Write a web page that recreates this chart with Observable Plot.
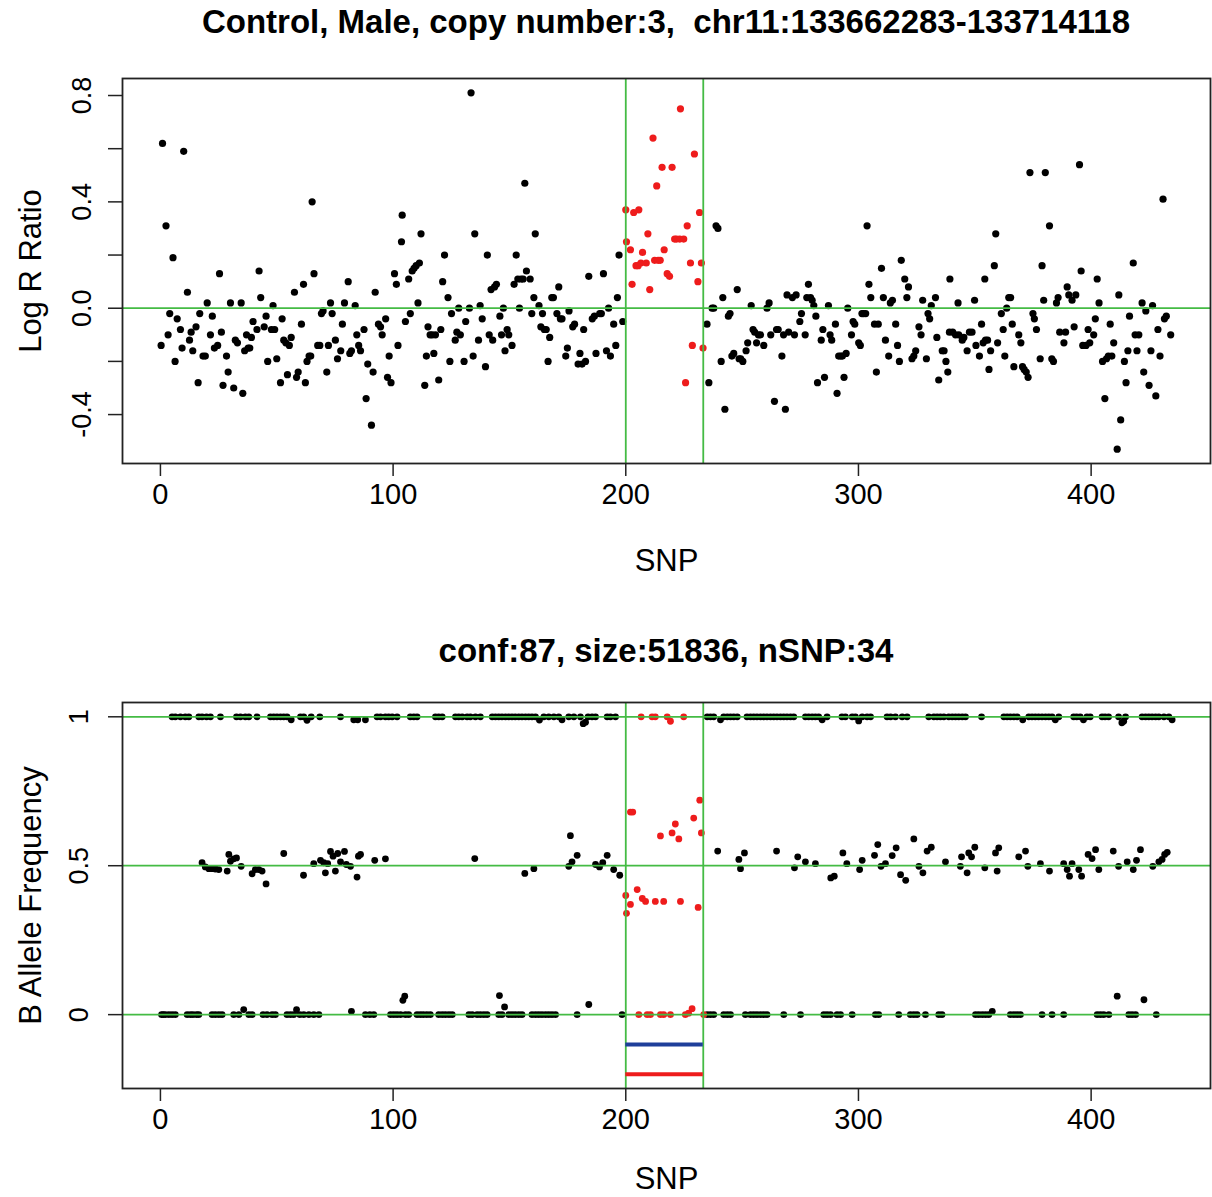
<!DOCTYPE html>
<html>
<head>
<meta charset="utf-8">
<script src="https://cdn.jsdelivr.net/npm/d3@7"></script>
<script src="https://cdn.jsdelivr.net/npm/@observablehq/plot@0.6"></script>
<style>
  html, body { margin: 0; padding: 0; background: #fff; }
  #page { position: relative; width: 1212px; height: 1197px; background: #fff; overflow: hidden;
          font-family: "Liberation Sans", Arial, Helvetica, sans-serif; }
  .ttl { position: absolute; left: 122px; width: 1088px; text-align: center; font-weight: bold;
         font-size: 33px; line-height: 33px; color: #000; white-space: pre; }
  .panel { position: absolute; left: 0; }
</style>
</head>
<body>
<div id="page">
  <div class="ttl" id="title1" style="top:5px"></div>
  <div class="panel" id="p1" style="top:50px"></div>
  <div class="ttl" id="title2" style="top:634px"></div>
  <div class="panel" id="p2" style="top:674px"></div>
</div>
<script>
// ---------- texts ----------
const mainTitle = "Control, Male, copy number:3,  chr11:133662283-133714118";
const subTitle = "conf:87, size:51836, nSNP:34";
const xLabel = "SNP";
const lrrLabel = "Log R Ratio";
const bafLabel = "B Allele Frequency";

// ---------- axes ----------
const xTicks = [0, 100, 200, 300, 400];
const lrrTicks = [-0.4, -0.2, 0, 0.2, 0.4, 0.6, 0.8];
const lrrLabeledTicks = [-0.4, 0, 0.4, 0.8];
const bafTicks = [0, 0.5, 1];
const lrrRefLines = [0];
const bafRefLines = [0, 0.5, 1];

// ---------- CNV region ----------
const regionBounds = [200, 233.3];
const regionBars = [-0.1, -0.2];   // blue, red bars under BAF panel

// ---------- Log R Ratio: [SNP, value] ----------
const lrrBlack = [
[0.3,-0.14],[0.9,0.62],[2.4,0.31],[3.3,-0.10],[4.0,-0.02],[5.4,0.19],[6.3,-0.20],[7.2,-0.04],[8.6,-0.08],[9.3,-0.15],[10.0,0.59],[11.6,0.06],[12.5,-0.12],[13.2,-0.09],[13.9,-0.16],[15.3,-0.07],[16.2,-0.28],[16.9,-0.02],[18.3,-0.18],[19.3,-0.18],[20.1,0.02],[21.5,-0.10],[22.3,-0.03],[23.2,-0.15],[24.6,-0.14],[25.4,0.13],[26.2,-0.09],[26.9,-0.29],[28.4,-0.18],[29.1,-0.24],[30.1,0.02],[31.5,-0.30],[32.2,-0.12],[33.1,-0.13],[34.7,0.02],[35.4,-0.32],[36.2,-0.16],[37.0,-0.10],[37.7,-0.15],[38.4,-0.15],[39.1,-0.11],[39.8,-0.05],[41.5,-0.08],[42.4,0.14],[43.1,0.04],[44.6,-0.07],[45.4,-0.03],[46.1,-0.20],[47.7,-0.08],[48.4,0.01],[49.1,-0.08],[50.0,-0.19],[51.6,-0.28],[52.3,-0.04],[53.0,-0.12],[53.9,-0.13],[54.6,-0.25],[55.4,-0.14],[56.2,-0.11],[57.6,0.06],[58.5,-0.26],[59.2,-0.24],[60.6,-0.06],[61.5,0.09],[62.3,-0.28],[63.0,-0.20],[63.9,-0.18],[64.6,-0.18],[65.2,0.40],[66.0,0.13],[67.6,-0.14],[68.5,-0.14],[69.2,-0.02],[69.9,-0.01],[71.5,-0.24],[72.2,-0.14],[73.1,0.02],[73.8,-0.02],[75.2,-0.12],[76.1,-0.19],[77.5,-0.16],[78.2,-0.06],[79.1,0.02],[80.7,0.10],[81.4,-0.17],[82.1,-0.16],[83.7,0.01],[84.4,-0.10],[85.2,-0.14],[86.0,-0.16],[87.5,-0.08],[88.4,-0.34],[89.1,-0.21],[90.7,-0.44],[91.4,-0.24],[92.3,0.06],[93.7,-0.06],[94.6,-0.07],[95.3,-0.10],[96.8,-0.04],[97.6,-0.26],[98.3,-0.18],[99.1,-0.28],[100.6,0.13],[101.4,0.09],[102.1,-0.14],
[103.9,0.35],[103.6,0.25],[105.3,-0.05],[106.7,0.11],[107.4,-0.02],[108.2,0.14],[109.0,0.15],[109.9,0.16],[110.7,0.02],[111.3,0.17],[112.0,0.28],[113.6,-0.29],[114.3,-0.18],[115.0,-0.07],[115.9,-0.10],[116.8,-0.10],[117.5,-0.17],[118.2,-0.10],[119.6,-0.27],[120.5,-0.08],[121.3,0.10],[122.1,0.20],[123.6,0.04],[124.4,-0.20],[125.1,-0.02],[126.7,-0.12],[127.4,-0.09],[128.2,0.00],[128.9,-0.10],[130.5,-0.20],[131.2,-0.05],[132.8,0.00],[133.5,0.81],[134.4,-0.18],[135.1,0.28],[136.7,-0.12],[137.4,0.01],[138.3,-0.04],[139.7,-0.22],[140.5,0.20],[141.3,-0.10],[142.1,0.07],[142.8,-0.12],[143.6,0.08],[144.4,0.09],[145.9,-0.03],[146.6,-0.10],[147.4,0.00],[148.1,-0.16],[149.0,-0.08],[149.7,-0.10],[151.1,-0.14],[152.0,0.09],[152.9,0.20],[153.6,0.11],[154.3,0.00],[155.0,0.11],[155.9,0.11],[156.6,0.47],[157.3,0.14],[158.9,0.11],[159.6,-0.02],[160.5,0.04],[161.1,0.28],[162.7,0.01],[163.5,-0.07],[164.2,-0.02],[165.0,-0.08],[165.8,-0.08],[166.6,-0.20],[167.3,-0.11],[168.2,0.04],[168.9,0.04],[170.4,-0.02],[171.2,0.08],[171.9,-0.04],[172.6,-0.04],[174.2,-0.18],[174.9,-0.15],[175.6,-0.01],[177.2,-0.07],[178.0,-0.06],[179.5,-0.21],[180.3,-0.17],[181.2,-0.21],[181.9,-0.08],[182.7,-0.20],[184.1,0.12],[185.6,-0.04],[186.5,-0.03],[187.2,-0.17],[188.8,-0.02],[189.5,-0.02],[190.4,0.13],[191.7,-0.16],[192.6,0.00],[193.4,-0.18],[194.8,-0.06],[195.7,-0.14],[196.4,0.04],[197.1,0.20],[198.7,-0.05],
[238.8,0.31],[239.6,0.30],[234.9,-0.06],[235.7,-0.28],[237.1,0.00],[237.8,0.00],[241.0,-0.20],[241.7,0.04],[242.6,-0.38],[244.1,-0.03],[244.8,-0.02],[245.6,-0.18],[246.4,-0.17],[247.9,0.07],[248.7,-0.19],[249.4,-0.19],[250.3,-0.20],[251.7,-0.16],[252.4,-0.13],[253.9,0.01],[254.7,-0.08],[255.4,-0.09],[256.2,-0.13],[257.0,-0.10],[257.9,-0.10],[259.3,-0.14],[260.7,0.00],[261.6,0.02],[262.3,-0.10],[263.9,-0.35],[264.8,-0.08],[265.5,-0.08],[267.1,-0.18],[267.8,-0.10],[268.6,-0.38],[269.3,0.05],[270.0,-0.09],[271.6,0.04],[272.5,-0.10],[273.2,0.05],[274.8,-0.05],[275.5,-0.02],[277.1,-0.10],[277.8,0.04],[278.5,0.09],[279.4,0.04],[280.1,0.03],[280.8,0.01],[281.7,-0.03],[282.4,-0.28],[284.0,-0.12],[284.7,-0.08],[285.4,-0.26],[287.1,0.01],[287.8,-0.10],[288.5,-0.12],[290.1,-0.06],[290.8,-0.32],[291.5,-0.18],[292.4,-0.18],[293.1,-0.18],[293.8,-0.26],[294.7,-0.17],[295.4,0.00],[297.0,-0.10],[297.7,-0.05],[298.4,-0.06],[300.1,-0.13],[300.8,-0.14],[301.5,-0.02],[302.2,-0.02],[303.1,-0.02],[303.7,0.31],[304.5,0.09],[305.3,0.04],[306.9,-0.06],[307.7,-0.24],[308.5,-0.06],[309.9,0.15],[310.7,0.04],[311.6,-0.12],[313.0,-0.18],[313.7,0.02],[314.6,0.03],[316.0,-0.06],[316.8,-0.14],[317.6,-0.20],[318.4,0.18],[319.9,0.11],[320.8,0.04],[321.5,0.08],[323.0,-0.19],[323.8,-0.18],[324.6,-0.16],[326.0,-0.07],[326.9,-0.10],[327.6,0.03],[329.2,-0.19],[329.9,-0.02],[330.6,-0.04],[331.3,0.01],[333.1,0.04],[333.7,-0.11],[334.5,-0.27],[336.0,-0.16],[336.8,-0.16],[337.6,-0.20],[338.4,-0.24],[339.1,-0.09],[339.3,0.11],
[340.5,-0.09],[341.7,-0.10],[342.8,0.02],[343.1,-0.10],[344.6,-0.12],[345.3,-0.11],[346.7,-0.16],[347.7,-0.09],[348.8,-0.09],[349.9,0.03],[350.5,-0.14],[352.0,-0.18],[352.9,-0.06],[353.6,-0.13],[354.3,0.11],[354.6,-0.12],[355.5,-0.12],[356.1,-0.23],[356.8,-0.16],[358.4,0.16],[359.0,0.28],[359.8,-0.13],[361.4,-0.02],[362.2,-0.08],[362.9,-0.18],[363.7,0.00],[364.6,0.04],[365.4,0.04],[366.1,-0.06],[366.8,-0.22],[368.9,-0.10],[369.8,-0.13],[370.5,-0.22],[371.2,-0.23],[372.1,-0.24],[372.9,-0.26],[373.7,0.51],[375.0,-0.02],[375.6,-0.04],[376.5,-0.08],[378.1,-0.19],[378.9,0.16],[379.6,0.03],[380.3,0.51],[382.1,0.31],[383.1,-0.19],[383.8,-0.20],[385.1,0.02],[385.8,0.04],[386.5,-0.09],[388.3,-0.13],[389.0,-0.09],[389.7,0.08],[390.4,0.05],[391.8,0.03],[392.7,-0.07],[393.4,0.05],[395.0,0.54],[395.7,0.14],[396.4,-0.14],[397.8,-0.14],[398.7,-0.08],[399.4,-0.13],[401.1,-0.10],[401.8,-0.04],[402.6,0.11],[403.4,0.02],[404.9,-0.20],[405.9,-0.34],[406.6,-0.19],[407.4,-0.18],[408.2,-0.06],[408.9,-0.18],[409.7,-0.13],[411.2,-0.53],[411.9,0.05],[412.7,-0.42],[414.3,-0.20],[415.0,-0.28],[415.8,-0.16],[416.5,-0.03],[418.1,0.17],[418.9,-0.10],[419.7,-0.16],[420.5,-0.10],[421.9,0.02],[422.6,-0.24],[423.5,-0.01],[424.9,-0.29],[425.7,-0.16],[426.4,0.01],[427.8,-0.33],[428.7,-0.08],[429.6,-0.18],[430.9,0.41],[431.5,-0.04],[432.3,-0.03],[434.2,-0.10]
];
const lrrRed = [
[200.0,0.37],[200.3,0.25],[202.0,0.22],[202.7,0.09],[203.4,0.36],[204.4,0.16],[205.6,0.37],[205.3,0.16],[206.5,0.17],[207.2,0.21],[208.8,0.17],[209.5,0.28],[210.3,0.07],[211.7,0.64],[212.4,0.18],[213.3,0.46],[213.9,0.18],[214.8,0.18],[215.6,0.53],[216.5,0.22],[217.8,0.13],[218.8,0.12],[219.9,0.53],[221.0,0.26],[223.5,0.75],[229.5,0.58],[221.8,0.26],[223.2,0.26],[224.9,0.26],[226.4,0.31],[231.7,0.36],[227.8,0.17],[232.5,0.17],[231.0,0.10],[228.6,-0.14],[233.2,-0.15],[225.7,-0.28]
];

// ---------- B Allele Frequency: [SNP, value] ----------
const bafBlack = [
// near 1
[5.0,1],[6.4,1],[8.6,1],[10.7,1],[12.2,1],[16.5,1],[17.9,1],[19.8,1],[21.5,1],[25.8,1],[32.7,1],[34.4,1],[36.5,1],[38.0,1],[41.5,1],[47.3,1],[48.7,1],[50.1,1],[51.6,1],[53.0,1],[54.4,1],[56.2,0.99],[60.2,1],[61.6,1],[63.0,0.988],[64.8,1],[68.5,1],[77.4,1],[83.1,0.99],[84.8,0.99],[88.1,0.99],[93.1,1],[94.6,1],[96.7,1],[98.1,1],[99.6,1],[101.7,1],
[107.4,1],[108.9,1],[110.3,1],[118.2,1],[119.6,1],[121.1,1],[126.8,1],[128.2,1],[129.7,1],[131.8,1],[133.2,1],[135.4,1],[137.5,1],[142.6,1],[144.0,1],[145.4,1],[146.8,1],[148.3,1],[149.7,1],[151.1,1],[152.5,1],[154.0,1],[155.4,1],[156.9,1],[158.3,1],[159.7,1],[161.2,1],[162.9,0.989],[164.8,1],[166.9,1],[169.1,1],[171.2,1],[172.6,0.99],[175.5,1],[177.7,1],[180.5,1],[181.7,0.977],[182.7,0.982],[183.8,1],[185.5,1],[187.0,1],[192.0,1],[193.4,1],[195.6,1],
[235.0,1],[236.4,1],[237.8,1],[240.7,0.99],[242.1,1],[243.6,1],[245.0,1],[246.4,1],[247.9,1],[252.1,1],[253.6,1],[255.0,1],[256.4,1],[257.9,1],[259.3,1],[260.7,1],[262.2,1],[263.6,1],[265.0,1],[266.5,1],[267.9,1],[269.3,1],[270.8,1],[272.2,1],[277.2,1],[278.6,1],[280.1,1],[281.5,1],[282.9,1],[284.4,0.99],[286.5,1],[292.9,1],[294.4,1],[297.3,1],[298.7,1],[300.1,0.986],[301.6,1],[303.7,1],[305.2,1],[312.3,1],[313.8,1],[315.9,1],[318.8,1],[320.9,1],[330.2,1],[332.4,1],[333.8,1],[335.2,1],[336.7,1],[338.8,1],
[340.3,1],[341.7,1],[343.1,1],[344.6,1],[346.0,1],[352.9,1],[362.5,1],[363.9,1],[365.3,1],[366.8,1],[368.2,1],[370.6,0.99],[373.2,1],[374.6,1],[376.0,1],[377.4,1],[378.9,1],[380.4,1],[381.8,1],[383.2,1],[384.6,0.99],[386.1,1],[392.5,1],[393.8,1],[395.3,1],[396.7,0.99],[398.2,1],[399.6,1],[404.7,1],[406.0,1],[407.5,1],[411.8,1],[413.2,0.98],[414.0,0.985],[414.8,1],[421.9,1],[423.4,1],[424.8,1],[426.2,1],[427.7,1],[429.1,1],[431.3,1],[433.4,1],[434.8,0.99],
// near 0.5
[17.9,0.51],[19.3,0.496],[20.8,0.49],[22.2,0.49],[23.6,0.489],[25.1,0.487],[28.7,0.482],[29.4,0.538],[30.1,0.515],[31.5,0.523],[32.7,0.526],[34.7,0.498],[39.4,0.473],[40.8,0.487],[42.3,0.487],[43.7,0.482],[45.4,0.439],[53.0,0.541],[61.5,0.468],[65.9,0.507],[68.8,0.518],[70.2,0.51],[70.9,0.476],[71.9,0.507],[73.1,0.548],[74.2,0.532],[75.2,0.482],[76.2,0.541],[77.4,0.513],[79.1,0.548],[79.9,0.504],[81.7,0.498],[84.5,0.462],[85.1,0.532],[86.0,0.538],[92.1,0.518],[96.7,0.523],
[135.1,0.524],[156.6,0.474],[160.5,0.49],[175.5,0.498],[176.2,0.601],[176.9,0.513],[179.1,0.535],[187.0,0.504],[188.7,0.496],[190.1,0.51],[192.0,0.535],[194.8,0.487],[197.4,0.468],
[239.5,0.549],[248.6,0.521],[249.3,0.49],[251.0,0.543],[264.8,0.549],[272.5,0.493],[273.9,0.53],[277.2,0.513],[281.5,0.507],[288.1,0.459],[289.6,0.465],[293.3,0.543],[295.0,0.507],[300.5,0.487],[301.6,0.518],[306.9,0.535],[308.3,0.571],[309.7,0.498],[311.6,0.507],[314.5,0.534],[316.2,0.56],[318.1,0.47],[320.3,0.451],[323.8,0.59],[326.0,0.498],[327.7,0.476],[329.5,0.549],[331.3,0.562],[337.4,0.513],
[343.8,0.498],[344.3,0.53],[346.7,0.476],[347.4,0.543],[348.6,0.53],[350.0,0.562],[354.3,0.493],[358.9,0.543],[359.6,0.482],[360.3,0.56],[368.9,0.53],[371.8,0.549],[372.8,0.498],[378.2,0.507],[382.1,0.482],[388.2,0.507],[389.7,0.487],[390.7,0.465],[391.8,0.507],[394.7,0.487],[395.9,0.465],[398.7,0.538],[400.4,0.524],[401.9,0.554],[403.3,0.487],[409.5,0.549],[411.8,0.498],[415.5,0.513],[418.1,0.487],[419.5,0.518],[421.2,0.554],[426.5,0.498],[429.1,0.513],[430.5,0.521],[431.6,0.538],[432.7,0.545],
// near 0
[0.5,0],[1.2,0],[2.1,0],[3.6,0],[5.0,0],[6.4,0],[11.5,0],[12.9,0],[14.0,0],[15.5,0],[16.5,0],[22.2,0],[23.6,0],[25.1,0],[26.5,0],[31.5,0],[33.7,0],[35.8,0.017],[38.0,0],[39.4,0],[44.1,0],[45.8,0],[48.0,0],[49.4,0],[54.4,0],[55.9,0],[57.3,0],[58.5,0.017],[59.9,0],[61.6,0],[63.8,0],[65.9,0],[68.1,0],[82.1,0.011],[88.1,0],[90.0,0],[91.7,0],[98.9,0],[100.3,0],[101.7,0],[103.2,0],
[104.2,0.048],[105.0,0.062],[105.3,0],[106.7,0],[110.3,0],[111.7,0],[113.0,0],[114.5,0],[116.0,0],[119.6,0],[121.1,0],[122.5,0],[124.0,0],[125.4,0],[132.6,0],[134.0,0],[136.1,0],[137.5,0],[139.0,0],[140.4,0],[145.4,0],[145.7,0.064],[146.8,0],[147.9,0.026],[149.7,0],[151.1,0],[152.5,0],[154.0,0],[155.4,0],[159.7,0],[161.2,0],[162.6,0],[164.0,0],[165.5,0],[166.9,0],[168.3,0],[169.8,0],[179.1,0],[184.1,0.034],[198.4,0],
[235.0,0],[236.4,0],[237.8,0],[242.1,0],[243.6,0],[245.0,0],[251.4,0],[253.6,0],[255.0,0],[256.4,0],[257.9,0],[259.3,0],[260.7,0],[267.9,0],[275.1,0],[285.1,0],[286.5,0],[288.0,0],[290.8,0],[292.3,0],[297.3,0],[307.3,0],[308.7,0],[317.3,0],[322.3,0],[323.8,0],[325.2,0],[328.8,0],[334.5,0],[335.9,0],
[350.3,0],[351.7,0],[353.2,0],[354.6,0],[356.0,0],[357.5,0.011],[365.3,0],[366.8,0],[368.2,0],[369.6,0],[378.9,0],[383.2,0],[388.2,0],[402.6,0],[404.0,0],[405.4,0],[407.6,0],[411.2,0.062],[416.2,0],[417.6,0],[419.1,0],[422.7,0.05],[428.0,0]
];
const bafRed = [
[206.6,1],[211.3,1],[212.7,1],[217.8,1],[219.2,0.985],[224.9,1],
[202.0,0.68],[203.0,0.68],[214.9,0.60],[219.9,0.61],[221.3,0.64],[222.8,0.59],[229.2,0.66],[231.8,0.72],[232.5,0.61],
[200.0,0.40],[200.3,0.34],[202.0,0.37],[204.9,0.42],[207.1,0.39],[208.5,0.38],[212.7,0.38],[216.3,0.38],[223.5,0.38],[231.1,0.36],
[205.6,0],[209.2,0],[210.6,0],[214.9,0],[216.3,0],[219.2,0],[225.6,0],[227.0,0.005],[228.5,0.02],[233.5,0]
];

// ---------- drawing ----------
const FONT = '"Liberation Sans", Arial, Helvetica, sans-serif';
const GREEN = "#44bb44";
const RED = "#ee1c1c";
const BLUE = "#1f3f9a";
const xDomain = [-16.3, 451.3];

document.getElementById("title1").textContent = mainTitle;
document.getElementById("title2").textContent = subTitle;

function axes({yTicks, yFormat, yPad}) {
  return [
    Plot.frame({stroke: "#222", strokeWidth: 1.8}),
    Plot.axisX({ticks: xTicks, tickSize: 13, tickPadding: 7, fontSize: 29, label: null,
                tickFormat: d => String(d), stroke: "#222", strokeWidth: 1.5}),
    Plot.axisY({ticks: yTicks, tickSize: 14, tickPadding: yPad, tickRotate: -90, fontSize: 27,
                label: null, tickFormat: yFormat, stroke: "#222", strokeWidth: 1.5}),
  ];
}

const plot1 = Plot.plot({
  width: 1212, height: 540,
  marginLeft: 122, marginRight: 2, marginTop: 28, marginBottom: 127,
  x: {domain: xDomain},
  y: {domain: [-0.584, 0.864]},
  style: {fontFamily: FONT, background: "#fff", color: "#000"},
  marks: [
    Plot.dot(lrrBlack, {x: d => d[0], y: d => d[1], r: 3.6, fill: "#000", stroke: "none"}),
    Plot.dot(lrrRed, {x: d => d[0], y: d => d[1], r: 3.6, fill: RED, stroke: "none"}),
    Plot.ruleY(lrrRefLines, {stroke: GREEN, strokeWidth: 1.8}),
    Plot.ruleX(regionBounds, {stroke: GREEN, strokeWidth: 1.8}),
    ...axes({yTicks: lrrTicks, yPad: 18,
             yFormat: d => lrrLabeledTicks.some(v => Math.abs(v - d) < 1e-9) ? d.toFixed(1) : ""}),
    Plot.text([xLabel], {text: d => d, frameAnchor: "bottom", dy: 107, lineAnchor: "bottom", fontSize: 31}),
    Plot.text([lrrLabel], {text: d => d, frameAnchor: "left", textAnchor: "middle", dx: -82, lineAnchor: "bottom", rotate: -90, fontSize: 31})
  ]
});
document.getElementById("p1").append(plot1);

const plot2 = Plot.plot({
  width: 1212, height: 523,
  marginLeft: 122, marginRight: 2, marginTop: 28, marginBottom: 109,
  x: {domain: xDomain},
  y: {domain: [-0.248, 1.048]},
  style: {fontFamily: FONT, background: "#fff", color: "#000"},
  marks: [
    Plot.dot(bafBlack, {x: d => d[0], y: d => d[1], r: 3.4, fill: "#000", stroke: "none"}),
    Plot.dot(bafRed, {x: d => d[0], y: d => d[1], r: 3.4, fill: RED, stroke: "none"}),
    Plot.ruleY(bafRefLines, {stroke: GREEN, strokeWidth: 1.8}),
    Plot.ruleX(regionBounds, {stroke: GREEN, strokeWidth: 1.8}),
    Plot.ruleY([regionBars[0]], {x1: regionBounds[0], x2: regionBounds[1], stroke: BLUE, strokeWidth: 4}),
    Plot.ruleY([regionBars[1]], {x1: regionBounds[0], x2: regionBounds[1], stroke: RED, strokeWidth: 4}),
    ...axes({yTicks: bafTicks, yPad: 21, yFormat: d => String(d)}),
    Plot.text([xLabel], {text: d => d, frameAnchor: "bottom", dy: 100, lineAnchor: "bottom", fontSize: 31}),
    Plot.text([bafLabel], {text: d => d, frameAnchor: "left", textAnchor: "middle", dx: -82, lineAnchor: "bottom", rotate: -90, fontSize: 31})
  ]
});
document.getElementById("p2").append(plot2);
</script>
</body>
</html>
